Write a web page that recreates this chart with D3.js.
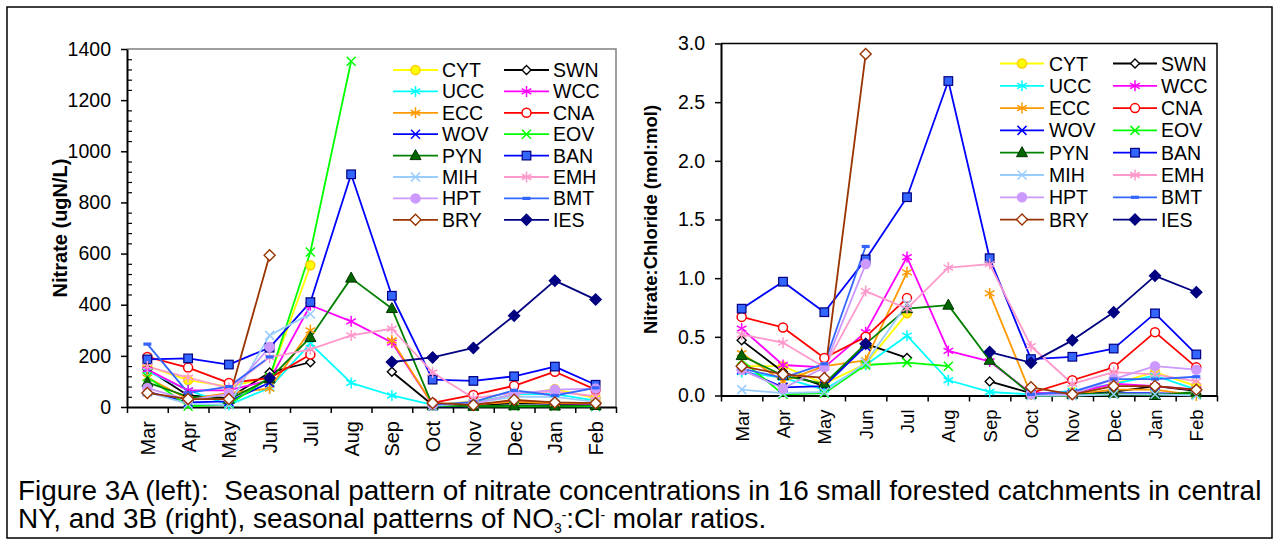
<!DOCTYPE html>
<html><head><meta charset="utf-8">
<script src="https://cdn.jsdelivr.net/npm/d3@7"></script>
<style>
body{margin:0;background:#fff}
svg{display:block}
text{font-family:"Liberation Sans",Arial,sans-serif}
</style>
</head><body>
<svg id="c" width="1275" height="544"></svg>
<script>
// ---------- DATA ----------
const months = ["Mar","Apr","May","Jun","Jul","Aug","Sep","Oct","Nov","Dec","Jan","Feb"];
const seriesNames = ["CYT","SWN","UCC","WCC","ECC","CNA","WOV","EOV","PYN","BAN","MIH","EMH","HPT","BMT","BRY","IES"];
const nitrateTicks = [0,200,400,600,800,1000,1200,1400];
const ratioTicks = [0,0.5,1.0,1.5,2.0,2.5,3.0];

// Figure 3A: nitrate (ugN/L)
const nitrateCYT = [160,105,80,115,554,null,null,8,22,45,70,35];
const nitrateSWN = [148,45,35,135,175,null,138,8,5,15,12,10];
const nitrateUCC = [140,66,8,75,248,94,45,8,15,50,50,25];
const nitrateWCC = [146,65,65,105,398,335,252,10,10,22,15,10];
const nitrateECC = [115,30,55,72,300,null,260,10,10,20,15,15];
const nitrateCNA = [196,154,94,113,205,null,null,16,47,83,138,68];
const nitrateWOV = [60,18,22,95,null,null,null,3,3,5,5,2];
const nitrateEOV = [118,3,10,115,606,1352,null,5,3,3,3,3];
const nitratePYN = [96,40,30,110,272,504,385,5,3,5,4,6];
const nitrateBAN = [186,190,166,232,410,910,435,107,102,120,158,87];
const nitrateMIH = [58,12,8,280,364,null,null,4,15,40,40,20];
const nitrateEMH = [158,115,74,194,225,280,306,135,35,55,60,42];
const nitrateHPT = [74,28,50,235,null,null,null,10,12,50,68,72];
const nitrateBMT = [246,55,80,196,null,null,null,8,20,65,45,75];
const nitrateBRY = [55,31,31,593,null,null,null,16,8,28,18,15];
const nitrateIES = [null,null,null,113,null,null,176,194,231,357,494,420];

// Figure 3B: nitrate:chloride (mol:mol)
const ratioCYT = [0.25,0.25,0.10,0.27,0.70,null,null,0.01,0.03,0.10,0.20,0.08];
const ratioSWN = [0.47,0.20,0.08,0.44,0.32,null,0.12,0.02,0.01,0.03,0.08,0.04];
const ratioUCC = [0.20,0.15,0.05,0.26,0.51,0.13,0.03,0.01,0.04,0.10,0.17,0.05];
const ratioWCC = [0.57,0.26,0.24,0.54,1.18,0.38,0.29,0.02,0.02,0.10,0.08,0.05];
const ratioECC = [0.36,0.12,0.25,0.30,1.05,null,0.87,0.01,0.01,0.05,0.05,0.00];
const ratioCNA = [0.67,0.58,0.32,0.50,0.83,null,null,0.02,0.13,0.24,0.54,0.24];
const ratioWOV = [0.22,0.07,0.08,0.42,null,null,null,0.01,0.01,0.02,0.02,0.01];
const ratioEOV = [0.30,0.01,0.02,0.26,0.28,0.25,null,0.00,0.00,0.01,0.01,0.01];
const ratioPYN = [0.34,0.17,0.10,0.44,0.74,0.77,0.30,0.01,0.01,0.02,0.00,0.03];
const ratioBAN = [0.74,0.97,0.71,1.16,1.69,2.68,1.17,0.31,0.33,0.40,0.70,0.35];
const ratioMIH = [0.05,0.02,0.03,0.28,0.78,null,null,0.00,0.00,0.01,0.01,0.00];
const ratioEMH = [0.52,0.45,0.24,0.89,0.74,1.09,1.12,0.42,0.10,0.20,0.18,0.12];
const ratioHPT = [0.22,0.06,0.24,1.12,null,null,null,0.01,0.01,0.14,0.25,0.22];
const ratioBMT = [0.23,0.15,0.27,1.27,null,null,null,0.01,0.03,0.14,0.14,0.16];
const ratioBRY = [0.25,0.18,0.15,2.91,null,null,null,0.07,0.01,0.08,0.08,0.05];
const ratioIES = [null,null,null,0.44,null,null,0.37,0.28,0.47,0.71,1.02,0.88];

const nitrateTable = {CYT:nitrateCYT,SWN:nitrateSWN,UCC:nitrateUCC,WCC:nitrateWCC,ECC:nitrateECC,CNA:nitrateCNA,WOV:nitrateWOV,EOV:nitrateEOV,PYN:nitratePYN,BAN:nitrateBAN,MIH:nitrateMIH,EMH:nitrateEMH,HPT:nitrateHPT,BMT:nitrateBMT,BRY:nitrateBRY,IES:nitrateIES};
const ratioTable = {CYT:ratioCYT,SWN:ratioSWN,UCC:ratioUCC,WCC:ratioWCC,ECC:ratioECC,CNA:ratioCNA,WOV:ratioWOV,EOV:ratioEOV,PYN:ratioPYN,BAN:ratioBAN,MIH:ratioMIH,EMH:ratioEMH,HPT:ratioHPT,BMT:ratioBMT,BRY:ratioBRY,IES:ratioIES};

// ---------- STYLES ----------
const styles = {
  CYT:{color:"#FFFF00", marker:"circle", fill:"#FFFF00", stroke:"#FFCC00"},
  SWN:{color:"#000000", marker:"diamondSmall", fill:"#FFFFFF", stroke:"#000000"},
  UCC:{color:"#00FFFF", marker:"star"},
  WCC:{color:"#FF00FF", marker:"star"},
  ECC:{color:"#FF9900", marker:"star"},
  CNA:{color:"#FF0000", marker:"circleOpen", fill:"#FFFFFF", stroke:"#FF0000"},
  WOV:{color:"#0000FF", marker:"x"},
  EOV:{color:"#00FF00", marker:"x"},
  PYN:{color:"#008000", marker:"triangle", fill:"#006600", stroke:"#003300"},
  BAN:{color:"#0000FF", marker:"square", fill:"#3366FF", stroke:"#000080"},
  MIH:{color:"#99CCFF", marker:"x"},
  EMH:{color:"#FF99CC", marker:"star"},
  HPT:{color:"#CC99FF", marker:"circle", fill:"#CC99FF", stroke:"#CC99FF"},
  BMT:{color:"#3366FF", marker:"dash"},
  BRY:{color:"#993300", marker:"diamond", fill:"#FFFFFF", stroke:"#993300"},
  IES:{color:"#000080", marker:"diamond", fill:"#000080", stroke:"#000080"}
};

const svg = d3.select("#c");
svg.append("rect").attr("x",7).attr("y",7).attr("width",1265).attr("height",531)
  .attr("fill","#fff").attr("stroke","#000").attr("stroke-width",1.5);

function drawMarker(g, x, y, st){
  const m = st.marker;
  if (m === "circle" || m === "circleOpen") {
    g.append("circle").attr("cx",x).attr("cy",y).attr("r",4.5)
      .attr("fill",st.fill).attr("stroke",st.stroke).attr("stroke-width",1.5);
  } else if (m === "square") {
    g.append("rect").attr("x",x-4.3).attr("y",y-4.3).attr("width",8.6).attr("height",8.6)
      .attr("fill",st.fill).attr("stroke",st.stroke).attr("stroke-width",1.2);
  } else if (m === "triangle") {
    g.append("path").attr("d",`M${x},${y-6}L${x+5.5},${y+4}L${x-5.5},${y+4}Z`)
      .attr("fill",st.fill).attr("stroke",st.stroke).attr("stroke-width",1);
  } else if (m === "diamond" || m === "diamondSmall") {
    const s = m === "diamond" ? 5.5 : 4.5;
    g.append("path").attr("d",`M${x},${y-s}L${x+s},${y}L${x},${y+s}L${x-s},${y}Z`)
      .attr("fill",st.fill).attr("stroke",st.stroke).attr("stroke-width",1.4);
  } else if (m === "x") {
    const s = 4.5;
    g.append("path").attr("d",`M${x-s},${y-s}L${x+s},${y+s}M${x-s},${y+s}L${x+s},${y-s}`)
      .attr("fill","none").attr("stroke",st.color).attr("stroke-width",1.5);
  } else if (m === "star") {
    const s = 5.5, a = s*0.87, b = s*0.5;
    g.append("path").attr("d",`M${x},${y-s}L${x},${y+s}M${x-a},${y-b}L${x+a},${y+b}M${x-a},${y+b}L${x+a},${y-b}`)
      .attr("fill","none").attr("stroke",st.color).attr("stroke-width",1.5);
  } else if (m === "dash") {
    g.append("rect").attr("x",x-4).attr("y",y-1.6).attr("width",8).attr("height",3.2)
      .attr("fill",st.color);
  }
}

function drawChart(cfg){
  const g = svg.append("g");
  const xPt = d3.scalePoint().domain(months).range([cfg.x0, cfg.x1]).padding(0.5);
  const xEdge = d3.scaleLinear().domain([0, months.length]).range([cfg.x0, cfg.x1]);
  const y = d3.scaleLinear().domain(cfg.domain).range([cfg.yBot, cfg.yTop]);

  g.append("path").attr("d",`M${cfg.x0},${cfg.yTop}H${cfg.x1}V${cfg.yBot}`)
    .attr("fill","none").attr("stroke",cfg.borderColor).attr("stroke-width",1.5);

  if (cfg.minorTicks) {
    const minor = g.append("g").attr("transform",`translate(${cfg.x0},0)`)
      .call(d3.axisLeft(y).tickValues(cfg.minorTicks).tickSizeInner(-5).tickSizeOuter(0).tickFormat(""));
    minor.select(".domain").remove();
    minor.selectAll("line").attr("stroke","#000").attr("stroke-width",1.2);
  }
  const ya = g.append("g").attr("transform",`translate(${cfg.x0},0)`)
    .call(d3.axisLeft(y).tickValues(cfg.ticks).tickSizeInner(6).tickSizeOuter(0).tickPadding(10).tickFormat(cfg.fmt));
  ya.select(".domain").attr("stroke-width",2);
  ya.selectAll("line").attr("stroke-width",1.5);
  ya.selectAll("text").attr("font-size",cfg.tickFont).attr("font-family","Liberation Sans, Arial, sans-serif").attr("fill","#000");

  const xa = g.append("g").attr("transform",`translate(0,${cfg.yBot})`)
    .call(d3.axisBottom(xEdge).tickValues(d3.range(0, months.length+1)).tickSizeInner(6).tickSizeOuter(0).tickFormat(""));
  xa.select(".domain").attr("stroke-width",2);
  xa.selectAll("line").attr("stroke-width",1.5);

  const ml = g.append("g").attr("transform",`translate(0,${cfg.yBot})`)
    .call(d3.axisBottom(xPt).tickSize(0).tickPadding(0));
  ml.select(".domain").remove();
  ml.selectAll("text")
    .attr("font-size",cfg.monthFont).attr("font-family","Liberation Sans, Arial, sans-serif").attr("fill","#000")
    .attr("text-anchor","end").attr("y",0).attr("dy","0.35em").attr("x",-cfg.monthGap)
    .attr("transform","rotate(-90)");

  g.append("text").attr("transform",`translate(${cfg.titleX},${(cfg.yTop+cfg.yBot)/2}) rotate(-90)`)
    .attr("text-anchor","middle").attr("font-weight","bold").attr("font-size",cfg.titleFont)
    .text(cfg.title);

  const table = cfg.table;
  const line = d3.line().defined(d => d.v != null).x(d => xPt(d.m)).y(d => y(d.v));
  seriesNames.forEach(name => {
    const st = styles[name];
    const pts = months.map((m,i) => ({m, v: table[name][i]}));
    g.append("path").datum(pts).attr("d",line).attr("fill","none")
      .attr("stroke",st.color).attr("stroke-width",1.8).attr("stroke-linejoin","round");
  });
  seriesNames.forEach(name => {
    const st = styles[name];
    const mg = g.append("g");
    months.forEach((m,i) => {
      const v = table[name][i];
      if (v != null) drawMarker(mg, xPt(m), y(v), st);
    });
  });

  const L = cfg.legend;
  seriesNames.forEach((name,i) => {
    const st = styles[name];
    const col = i % 2, row = Math.floor(i/2);
    const lx0 = L.lineX[col], lx1 = L.lineX[col] + L.lineW;
    const ly = L.y0 + row*L.dy;
    const lg = g.append("g");
    lg.append("line").attr("x1",lx0).attr("x2",lx1).attr("y1",ly).attr("y2",ly)
      .attr("stroke",st.color).attr("stroke-width",1.8);
    drawMarker(lg, (lx0+lx1)/2, ly, st);
    lg.append("text").attr("x",L.textX[col]).attr("y",ly).attr("dy","0.36em")
      .attr("font-size",L.font).text(name);
  });
}

drawChart({
  table: nitrateTable, x0:127, x1:616, yTop:49, yBot:407, domain:[0,1400],
  ticks: nitrateTicks, minorTicks: d3.range(40,1400,40).filter(v => v % 200 !== 0),
  fmt: d3.format("d"), tickFont:19.5, monthFont:20, monthGap:14, borderColor:"#808080",
  title:"Nitrate (ugN/L)", titleX:67, titleFont:20,
  legend:{lineX:[393,504], lineW:45, textX:[442,553], y0:70, dy:21.4, font:19.5}
});
drawChart({
  table: ratioTable, x0:721, x1:1217, yTop:43.5, yBot:395.5, domain:[0,3],
  ticks: ratioTicks, minorTicks:null,
  fmt: d3.format(".1f"), tickFont:19.5, monthFont:18.5, monthGap:14, borderColor:"#000",
  title:"Nitrate:Chloride (mol:mol)", titleX:657, titleFont:18.5,
  legend:{lineX:[1000,1113], lineW:44, textX:[1049,1161], y0:63.5, dy:22.3, font:19.5}
});

// caption
const cap = svg.append("g").attr("font-size",22);
const c1 = cap.append("text").attr("x",18).attr("y",500).style("white-space","pre")
  .text("Figure 3A (left):  Seasonal pattern of nitrate concentrations in 16 small forested catchments in central");
const c2 = cap.append("text").attr("x",18).attr("y",528).style("white-space","pre");
c2.append("tspan").text("NY, and 3B (right), seasonal patterns of NO");
c2.append("tspan").attr("font-size",14).attr("dy",5).text("3");
c2.append("tspan").attr("font-size",14).attr("dy",-13).text("-");
c2.append("tspan").attr("dy",8).text(":Cl");
c2.append("tspan").attr("font-size",14).attr("dy",-8).text("-");
c2.append("tspan").attr("dy",8).text(" molar ratios.");
const w = c1.node().getComputedTextLength();
cap.attr("font-size", 22*1244/w);
</script>
</body></html>
